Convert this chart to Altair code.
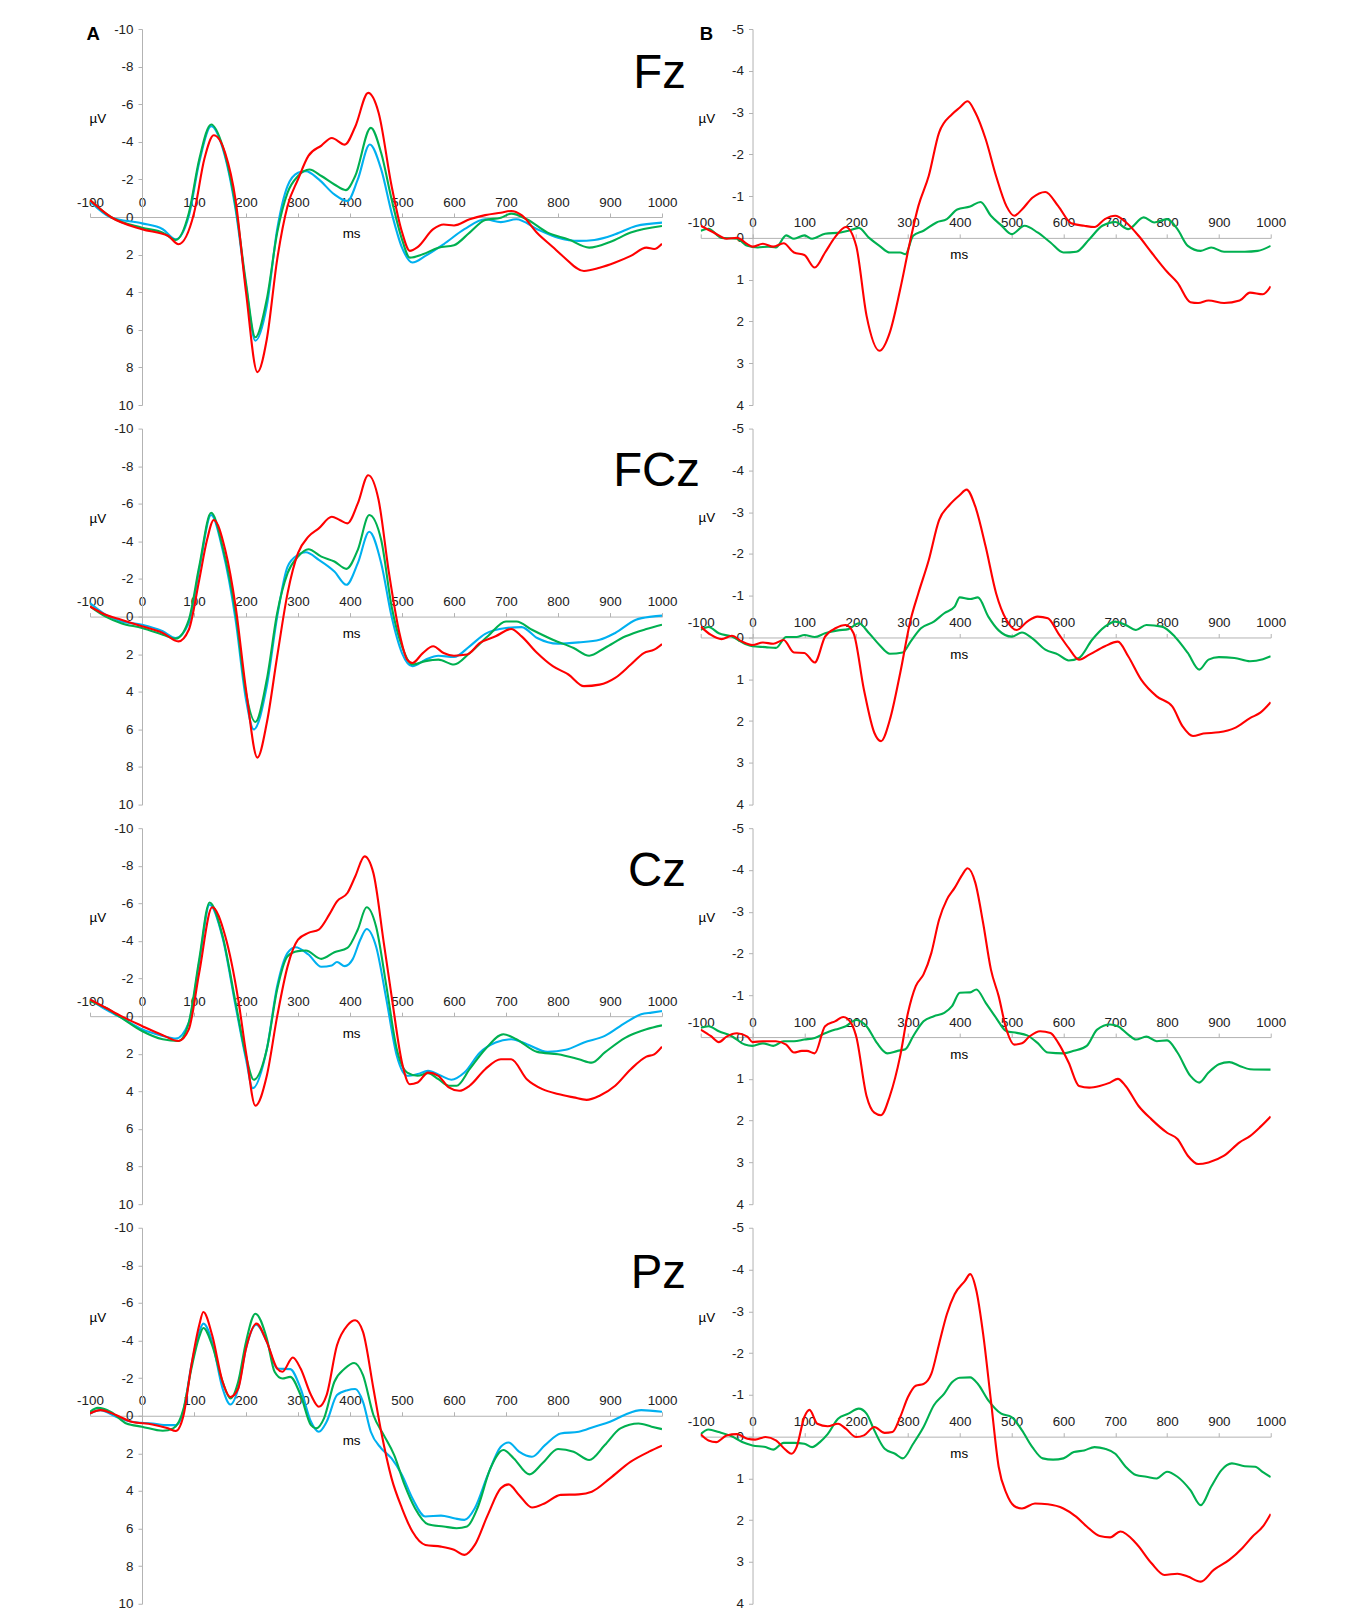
import altair as alt
import pandas as pd

# ---------------- data: (ms, µV) pairs ----------------
# Panel A (three conditions) and panel B (two difference waves), four electrodes
FZ_A_BLUE = [(-100,-0.83),(-60,0.03),(0,0.34),(40,0.65),(65,1.19),(90,-0.05),(110,-2.9),(133,-4.83),(155,-3.68),(180,-0.4),(200,3.66),(218,6.58),(240,4.73),(260,0.65),(280,-1.65),(300,-2.35),(315,-2.44),(340,-2.0),(370,-1.2),(395,-0.85),(415,-2.0),(438,-3.86),(460,-2.53),(480,-0.23),(500,1.63),(520,2.42),(545,2.07),(580,1.45),(620,0.65),(660,0.12),(690,0.27),(720,0.12),(760,0.65),(800,1.1),(840,1.27),(870,1.22),(910,0.92),(950,0.48),(1000,0.3)]
FZ_A_GREEN = [(-100,-0.9),(-60,0.0),(0,0.57),(40,0.83),(65,1.22),(90,-0.2),(110,-3.06),(133,-4.92),(155,-3.77),(180,-0.58),(200,3.5),(218,6.4),(240,4.37),(260,0.83),(280,-1.3),(300,-2.18),(322,-2.53),(345,-2.18),(370,-1.73),(392,-1.43),(410,-2.18),(440,-4.74),(460,-3.4),(480,-0.94),(500,1.19),(515,2.16),(540,1.98),(570,1.63),(600,1.5),(630,0.83),(660,0.16),(690,0.04),(710,-0.18),(740,0.12),(780,0.83),(820,1.19),(860,1.63),(900,1.33),(940,0.83),(1000,0.48)]
FZ_A_RED = [(-100,-0.9),(-60,0.0),(0,0.65),(50,1.0),(70,1.45),(100,-0.2),(120,-3.1),(138,-4.35),(160,-3.4),(180,-0.9),(200,4.0),(222,8.25),(240,6.5),(260,2.25),(280,-0.6),(300,-2.0),(320,-3.25),(345,-3.8),(365,-4.2),(390,-3.85),(410,-4.8),(435,-6.6),(455,-5.55),(480,-1.65),(500,0.8),(515,1.8),(530,1.6),(560,0.65),(580,0.4),(600,0.45),(630,0.12),(660,-0.1),(690,-0.23),(710,-0.32),(730,-0.1),(760,0.85),(790,1.6),(810,2.1),(850,2.87),(880,2.7),(910,2.42),(940,2.07),(970,1.63),(985,1.7),(1000,1.42)]

FCZ_A_BLUE = [(-100,-0.72),(-70,-0.1),(-40,0.26),(0,0.43),(40,0.78),(65,1.14),(90,0.35),(110,-2.49),(133,-5.4),(155,-3.55),(180,0.17),(200,4.41),(215,6.0),(240,3.7),(260,0.0),(280,-2.66),(300,-3.28),(315,-3.42),(340,-3.02),(370,-2.4),(393,-1.69),(415,-2.84),(437,-4.51),(460,-2.84),(480,0.0),(500,1.94),(520,2.64),(545,2.29),(570,2.08),(600,2.15),(630,1.58),(660,0.92),(700,0.61),(730,0.56),(760,1.14),(800,1.44),(840,1.37),(880,1.23),(910,0.87),(950,0.17),(980,0.0),(1000,-0.05)]
FCZ_A_GREEN = [(-100,-0.54),(-70,0.0),(-40,0.35),(0,0.61),(40,0.96),(65,1.17),(90,0.17),(110,-2.66),(133,-5.52),(155,-3.72),(180,-0.19),(200,4.06),(218,5.61),(240,3.35),(260,-0.19),(280,-2.31),(300,-3.19),(320,-3.58),(345,-3.19),(370,-2.93),(393,-2.54),(415,-3.55),(437,-5.4),(460,-4.07),(480,-0.54),(500,1.58),(520,2.55),(545,2.37),(570,2.29),(600,2.55),(630,1.94),(665,1.05),(700,0.26),(720,0.26),(750,0.7),(790,1.23),(830,1.67),(860,2.08),(890,1.67),(930,1.05),(970,0.66),(1000,0.43)]
FCZ_A_RED = [(-100,-0.54),(-70,-0.1),(-40,0.17),(0,0.52),(40,0.87),(70,1.32),(90,0.7),(110,-1.95),(125,-4.07),(138,-5.14),(160,-3.55),(180,-0.54),(200,3.88),(222,7.5),(240,5.65),(260,2.11),(280,-1.25),(300,-3.37),(320,-4.25),(340,-4.69),(365,-5.31),(380,-5.14),(395,-4.96),(415,-6.02),(435,-7.52),(455,-6.2),(475,-2.31),(495,0.87),(510,2.29),(520,2.47),(540,1.94),(560,1.58),(580,1.94),(600,2.08),(625,2.02),(650,1.4),(680,1.05),(710,0.66),(730,1.05),(760,1.94),(790,2.64),(820,3.08),(850,3.7),(880,3.62),(910,3.26),(940,2.55),(965,1.94),(985,1.76),(1000,1.46)]

CZ_A_BLUE = [(-100,-0.89),(-70,-0.36),(-40,0.08),(0,0.7),(40,1.05),(65,1.19),(90,0.34),(110,-2.84),(130,-5.93),(155,-4.17),(180,-0.54),(200,2.29),(213,3.83),(240,1.76),(260,-1.6),(280,-3.37),(295,-3.67),(320,-3.28),(345,-2.63),(365,-2.7),(375,-2.88),(390,-2.66),(405,-3.02),(420,-4.08),(432,-4.64),(450,-3.72),(470,-0.89),(490,2.11),(510,3.17),(530,3.08),(550,2.91),(575,3.17),(595,3.38),(620,3.0),(650,1.93),(680,1.4),(710,1.23),(740,1.49),(780,1.9),(815,1.79),(850,1.4),(890,1.05),(930,0.34),(960,-0.1),(980,-0.19),(1000,-0.27)]
CZ_A_GREEN = [(-100,-0.8),(-70,-0.45),(-40,0.08),(0,0.79),(40,1.23),(70,1.32),(90,0.34),(110,-3.02),(130,-6.05),(155,-4.26),(180,-0.72),(200,2.11),(215,3.38),(240,1.76),(260,-1.43),(280,-3.19),(300,-3.46),(315,-3.49),(345,-3.05),(370,-3.4),(395,-3.63),(415,-4.61),(432,-5.79),(450,-4.78),(470,-1.6),(490,1.76),(510,3.0),(530,3.17),(550,3.03),(570,3.35),(590,3.7),(605,3.7),(630,2.82),(660,1.76),(695,0.96),(720,1.23),(760,1.9),(800,2.03),(840,2.29),(865,2.47),(890,1.93),(930,1.14),(970,0.7),(1000,0.49)]
CZ_A_RED = [(-100,-0.89),(-70,-0.45),(-40,0.0),(0,0.52),(40,1.01),(70,1.32),(90,0.7),(110,-2.31),(135,-5.79),(160,-4.26),(185,-0.89),(200,1.93),(218,4.76),(240,3.17),(260,0.0),(280,-2.65),(300,-4.07),(320,-4.43),(340,-4.61),(360,-5.4),(375,-6.11),(395,-6.55),(410,-7.43),(428,-8.5),(445,-7.61),(465,-3.9),(480,-1.07),(500,2.47),(515,3.62),(530,3.53),(550,3.0),(570,3.17),(590,3.79),(610,3.97),(630,3.7),(660,2.82),(690,2.29),(710,2.29),(740,3.35),(770,3.88),(800,4.14),(830,4.32),(855,4.45),(880,4.23),(910,3.7),(940,2.82),(970,2.15),(985,2.03),(1000,1.62)]

PZ_A_BLUE = [(-100,-0.12),(-80,-0.3),(-50,0.05),(-20,0.32),(20,0.41),(50,0.5),(65,0.5),(80,-0.3),(95,-2.69),(110,-4.46),(118,-4.9),(135,-3.93),(155,-1.45),(170,-0.6),(185,-1.45),(200,-3.58),(220,-4.85),(240,-3.93),(260,-2.51),(285,-2.48),(305,-1.45),(325,0.32),(340,0.85),(355,0.32),(375,-1.1),(395,-1.36),(410,-1.42),(425,-0.74),(440,0.85),(460,1.73),(480,2.27),(500,3.15),(520,4.39),(545,5.36),(575,5.31),(600,5.45),(620,5.54),(640,4.92),(665,3.15),(690,1.65),(705,1.42),(725,1.91),(750,2.18),(775,1.56),(805,0.94),(840,0.85),(870,0.58),(900,0.32),(930,-0.07),(960,-0.3),(1000,-0.21)]
PZ_A_GREEN = [(-100,-0.21),(-85,-0.42),(-60,-0.21),(-30,0.41),(0,0.58),(40,0.8),(60,0.67),(80,-0.39),(95,-2.51),(110,-4.19),(118,-4.67),(135,-3.75),(155,-1.81),(170,-0.92),(185,-1.81),(200,-3.93),(218,-5.43),(240,-4.11),(255,-2.34),(270,-1.98),(285,-2.07),(305,-1.1),(325,0.5),(335,0.67),(350,0.14),(370,-1.81),(390,-2.51),(408,-2.81),(425,-2.16),(445,-0.04),(465,1.03),(485,2.09),(505,3.68),(525,4.92),(550,5.77),(580,5.89),(605,5.98),(625,5.89),(645,4.92),(670,2.8),(695,1.82),(715,2.27),(745,3.12),(770,2.53),(800,1.77),(830,1.91),(860,2.35),(890,1.56),(920,0.67),(955,0.41),(980,0.58),(1000,0.71)]
PZ_A_RED = [(-100,-0.12),(-80,-0.3),(-50,-0.04),(-20,0.32),(20,0.46),(50,0.67),(65,0.81),(80,-0.04),(95,-2.69),(110,-4.81),(118,-5.52),(135,-4.28),(155,-1.81),(170,-1.0),(185,-1.45),(200,-3.58),(220,-4.9),(240,-3.93),(260,-2.51),(270,-2.34),(290,-3.1),(305,-2.51),(325,-1.1),(340,-0.48),(355,-1.1),(375,-3.75),(395,-4.81),(410,-5.08),(425,-4.46),(445,-1.45),(460,0.85),(480,3.33),(500,4.92),(520,6.16),(545,6.87),(575,6.96),(600,7.13),(620,7.4),(640,6.87),(665,5.27),(690,3.86),(705,3.65),(725,4.21),(750,4.88),(775,4.65),(805,4.21),(840,4.18),(865,4.04),(900,3.33),(940,2.44),(975,1.91),(1000,1.59)]

FZ_B_GREEN = [(-100,-0.17),(-85,-0.22),(-60,0.0),(-30,0.02),(-10,0.19),(10,0.23),(30,0.21),(45,0.23),(65,-0.06),(80,0.02),(100,-0.06),(115,0.02),(140,-0.1),(170,-0.13),(185,-0.17),(205,-0.24),(225,0.0),(245,0.19),(265,0.35),(285,0.35),(295,0.39),(310,-0.05),(330,-0.17),(355,-0.37),(375,-0.45),(395,-0.68),(420,-0.75),(440,-0.86),(460,-0.53),(480,-0.3),(500,-0.09),(525,-0.29),(550,-0.13),(575,0.11),(600,0.35),(625,0.33),(650,0.03),(675,-0.29),(700,-0.38),(725,-0.21),(755,-0.49),(775,-0.37),(800,-0.45),(820,-0.21),(840,0.19),(865,0.31),(885,0.23),(910,0.33),(950,0.33),(975,0.31),(1000,0.19)]
FZ_B_RED = [(-100,-0.29),(-75,-0.13),(-50,0.02),(-30,0.0),(-10,0.15),(0,0.21),(20,0.14),(40,0.21),(60,0.13),(80,0.35),(100,0.41),(120,0.71),(140,0.35),(160,-0.03),(180,-0.26),(200,0.19),(220,1.86),(245,2.7),(265,2.26),(285,1.23),(305,0.03),(320,-0.76),(340,-1.48),(360,-2.52),(385,-2.96),(400,-3.12),(415,-3.27),(430,-3.0),(450,-2.36),(470,-1.48),(490,-0.76),(505,-0.53),(520,-0.68),(540,-0.96),(565,-1.1),(590,-0.76),(615,-0.35),(640,-0.29),(660,-0.26),(680,-0.45),(700,-0.53),(720,-0.38),(745,-0.05),(770,0.35),(800,0.81),(820,1.07),(845,1.54),(860,1.56),(880,1.5),(910,1.56),(940,1.5),(960,1.31),(985,1.35),(1000,1.16)]

FCZ_B_GREEN = [(-100,-0.18),(-85,-0.25),(-65,-0.1),(-40,-0.02),(-15,0.15),(0,0.21),(25,0.23),(45,0.25),(65,-0.01),(85,-0.01),(100,-0.06),(120,-0.01),(140,-0.1),(165,-0.17),(185,-0.2),(205,-0.34),(225,-0.1),(245,0.18),(265,0.39),(290,0.36),(305,0.1),(325,-0.22),(350,-0.38),(370,-0.58),(390,-0.74),(400,-0.96),(420,-0.92),(435,-0.96),(455,-0.5),(475,-0.17),(500,-0.02),(520,-0.12),(540,0.02),(565,0.29),(590,0.41),(610,0.55),(630,0.49),(655,0.06),(680,-0.26),(700,-0.38),(720,-0.3),(740,-0.18),(760,-0.3),(790,-0.26),(815,-0.02),(840,0.37),(862,0.77),(880,0.53),(900,0.47),(930,0.49),(960,0.57),(985,0.52),(1000,0.45)]
FCZ_B_RED = [(-100,-0.26),(-80,-0.06),(-60,0.04),(-40,-0.04),(-20,0.1),(0,0.18),(20,0.12),(40,0.15),(60,0.06),(80,0.36),(100,0.37),(120,0.6),(140,-0.02),(160,-0.22),(180,-0.3),(195,-0.1),(215,1.25),(235,2.28),(248,2.48),(265,1.97),(285,0.85),(305,-0.42),(320,-1.06),(340,-1.85),(360,-2.81),(380,-3.17),(400,-3.41),(413,-3.54),(430,-3.13),(450,-2.17),(470,-1.06),(490,-0.42),(510,-0.18),(530,-0.38),(550,-0.5),(570,-0.46),(590,-0.1),(610,0.25),(630,0.53),(650,0.41),(680,0.21),(705,0.1),(725,0.45),(750,1.01),(780,1.41),(810,1.65),(830,2.13),(850,2.36),(870,2.3),(900,2.27),(930,2.17),(960,1.93),(980,1.8),(1000,1.55)]

CZ_B_GREEN = [(-100,-0.22),(-85,-0.26),(-65,-0.14),(-40,-0.02),(-15,0.18),(0,0.21),(20,0.15),(40,0.21),(60,0.1),(80,0.1),(100,0.06),(120,0.02),(140,-0.09),(160,-0.18),(180,-0.26),(200,-0.41),(220,-0.26),(240,0.14),(260,0.39),(280,0.33),(295,0.29),(310,-0.02),(330,-0.38),(350,-0.5),(370,-0.58),(385,-0.74),(400,-1.06),(420,-1.07),(432,-1.14),(450,-0.82),(470,-0.46),(490,-0.14),(510,-0.1),(530,-0.04),(550,0.14),(570,0.37),(600,0.39),(620,0.33),(645,0.21),(665,-0.18),(690,-0.3),(705,-0.26),(725,-0.06),(740,0.06),(760,-0.01),(780,0.1),(800,0.08),(820,0.37),(845,0.93),(862,1.09),(880,0.85),(900,0.65),(920,0.6),(940,0.69),(960,0.77),(1000,0.78)]
CZ_B_RED = [(-100,-0.18),(-80,-0.02),(-65,0.12),(-50,-0.01),(-30,-0.09),(-10,-0.01),(0,0.12),(20,0.1),(45,0.1),(65,0.18),(80,0.37),(95,0.33),(105,0.33),(120,0.39),(140,-0.26),(160,-0.38),(175,-0.48),(190,-0.34),(200,-0.02),(220,1.41),(235,1.81),(248,1.87),(265,1.41),(285,0.45),(300,-0.58),(315,-1.22),(330,-1.5),(345,-2.01),(360,-2.81),(375,-3.29),(390,-3.57),(405,-3.89),(415,-4.04),(430,-3.69),(445,-2.73),(460,-1.62),(475,-0.98),(490,-0.18),(505,0.18),(520,0.15),(535,-0.02),(555,-0.14),(575,-0.1),(590,0.14),(610,0.61),(630,1.17),(650,1.21),(670,1.17),(690,1.09),(705,1.0),(720,1.17),(745,1.65),(770,1.97),(800,2.29),(820,2.44),(840,2.84),(860,3.04),(880,3.0),(910,2.84),(940,2.52),(960,2.37),(980,2.15),(1000,1.9)]

PZ_B_GREEN = [(-100,-0.06),(-85,-0.17),(-65,-0.11),(-40,-0.01),(-20,0.13),(0,0.21),(25,0.25),(40,0.31),(60,0.15),(80,0.15),(100,0.17),(115,0.25),(130,0.13),(145,-0.06),(165,-0.43),(185,-0.55),(205,-0.67),(220,-0.55),(235,-0.15),(255,0.29),(275,0.41),(290,0.52),(310,0.17),(330,-0.23),(350,-0.75),(370,-1.03),(385,-1.3),(400,-1.41),(420,-1.42),(435,-1.26),(455,-0.87),(480,-0.55),(500,-0.47),(520,-0.15),(540,0.25),(560,0.52),(580,0.55),(600,0.52),(620,0.37),(640,0.33),(660,0.25),(680,0.29),(700,0.41),(720,0.72),(740,0.92),(760,0.96),(780,1.0),(800,0.84),(820,0.96),(845,1.28),(865,1.64),(885,1.2),(905,0.8),(925,0.64),(950,0.71),(970,0.72),(985,0.85),(1000,0.97)]
PZ_B_RED = [(-100,-0.06),(-85,0.09),(-70,0.13),(-50,-0.03),(-30,-0.06),(-10,0.05),(5,0.07),(25,0.01),(45,0.09),(65,0.33),(75,0.41),(85,0.25),(100,-0.47),(110,-0.64),(125,-0.31),(145,-0.25),(165,-0.31),(180,-0.19),(200,0.01),(215,-0.03),(235,-0.23),(255,-0.09),(270,-0.11),(285,-0.47),(300,-0.95),(315,-1.22),(330,-1.26),(345,-1.5),(360,-2.22),(375,-2.93),(390,-3.41),(410,-3.73),(420,-3.89),(432,-3.49),(445,-2.46),(460,-0.87),(475,0.72),(490,1.36),(505,1.66),(520,1.72),(545,1.6),(570,1.62),(600,1.72),(625,1.92),(645,2.15),(670,2.38),(690,2.41),(710,2.27),(740,2.55),(770,3.03),(795,3.31),(820,3.28),(840,3.35),(865,3.47),(890,3.19),(920,2.95),(945,2.67),(965,2.39),(985,2.15),(1000,1.85)]

ELECTRODES = ["Fz", "FCz", "Cz", "Pz"]
X_TICKS = [-100, 0, 100, 200, 300, 400, 500, 600, 700, 800, 900, 1000]
Y_TICKS_A = [-10, -8, -6, -4, -2, 0, 2, 4, 6, 8, 10]
Y_TICKS_B = [-5, -4, -3, -2, -1, 0, 1, 2, 3, 4]

RED, GREEN, BLUE = "#FF0000", "#00B050", "#00B0F0"
AX = "#b3b3b3"
TXT = "#222222"
FONT = "Liberation Sans"

# the captured picture comes out at ~0.971 of page pixels, so sizes are set in page pixels
K = 1 / 0.971
W_A, W_B, H = round(555 * K), round(553 * K), round(365 * K)
LBL = 13 * K
X_DOM = [-100, 1000]


def df_of(pairs):
    return pd.DataFrame({"t": [p[0] for p in pairs], "v": [p[1] for p in pairs]})


def panel(series, ydom, yticks, width, texts):
    xscale = alt.Scale(domain=X_DOM, nice=False, zero=False)
    yscale = alt.Scale(domain=ydom, reverse=True, nice=False, zero=False)
    zero_frac = (0 - ydom[0]) / (ydom[1] - ydom[0])
    xaxis = alt.Axis(orient="top", offset=-H * zero_frac, values=X_TICKS,
                     labelExpr="'' + datum.value", title=None, grid=False,
                     domainColor=AX, tickColor=AX, tickSize=4, labelPadding=4,
                     labelFontSize=LBL, labelFont=FONT, labelColor=TXT,
                     labelFlush=False, labelOverlap=False)
    yaxis = alt.Axis(orient="left", offset=-width * 100 / 1100, values=yticks,
                     labelExpr="'' + datum.value", title=None, grid=False,
                     domainColor=AX, tickColor=AX, tickSize=4, labelPadding=5,
                     labelFontSize=LBL, labelFont=FONT, labelColor=TXT,
                     labelFlush=False, labelOverlap=False)
    layers = []
    for pairs, col in series:
        layers.append(
            alt.Chart(df_of(pairs)).mark_line(color=col, strokeWidth=2.1, interpolate="monotone", clip=True)
            .encode(x=alt.X("t:Q", scale=xscale, axis=xaxis),
                    y=alt.Y("v:Q", scale=yscale, axis=yaxis))
        )
    for (tx, ty, label, size, weight, align) in texts:
        tdf = pd.DataFrame({"t": [tx], "v": [ty], "label": [label]})
        layers.append(
            alt.Chart(tdf).mark_text(font=FONT, fontSize=size * K, fontWeight=weight, align=align,
                                     baseline="middle", color="#000000")
            .encode(x=alt.X("t:Q", scale=xscale, axis=xaxis),
                    y=alt.Y("v:Q", scale=yscale, axis=yaxis),
                    text="label:N")
        )
    return alt.layer(*layers).properties(width=width, height=H)


A_SERIES = [
    [(FZ_A_BLUE, BLUE), (FZ_A_GREEN, GREEN), (FZ_A_RED, RED)],
    [(FCZ_A_BLUE, BLUE), (FCZ_A_GREEN, GREEN), (FCZ_A_RED, RED)],
    [(CZ_A_BLUE, BLUE), (CZ_A_GREEN, GREEN), (CZ_A_RED, RED)],
    [(PZ_A_BLUE, BLUE), (PZ_A_GREEN, GREEN), (PZ_A_RED, RED)],
]
B_SERIES = [
    [(FZ_B_GREEN, GREEN), (FZ_B_RED, RED)],
    [(FCZ_B_GREEN, GREEN), (FCZ_B_RED, RED)],
    [(CZ_B_GREEN, GREEN), (CZ_B_RED, RED)],
    [(PZ_B_GREEN, GREEN), (PZ_B_RED, RED)],
]
ELEC_X = [1046, 1073, 1046, 1046]
ELEC_Y = [-7.6, -7.7, -7.65, -7.55]
MS_Y_A = [0.9, 0.9, 0.96, 1.34]

panels = []
for i in range(4):
    ta = [(-85, -5.2, "µV", 13, "normal", "center"),
          (403, MS_Y_A[i], "ms", 13, "normal", "center"),
          (ELEC_X[i], ELEC_Y[i], ELECTRODES[i], 46, "normal", "right")]
    if i == 0:
        ta.append((-94, -9.73, "A", 18, "bold", "center"))
    tb = [(-88, -2.85, "µV", 13, "normal", "center"),
          (399, 0.42, "ms", 13, "normal", "center")]
    if i == 0:
        tb.append((-89, -4.89, "B", 18, "bold", "center"))
    panels.append(panel(A_SERIES[i], [-10, 10], Y_TICKS_A, W_A, ta))
    panels.append(panel(B_SERIES[i], [-5, 4], Y_TICKS_B, W_B, tb))

col_gap = (681 - 88) * K - W_A
row_gap = (1193 - 29) * K / 3 - H

chart = alt.concat(*panels, columns=2, spacing={"row": row_gap, "column": col_gap}, bounds="flush").properties(
    padding={"left": 68, "top": 14, "right": 10, "bottom": 5}, background="white"
).configure_view(stroke=None)

chart.save("out.html", embed_options={"renderer": "svg", "actions": False})
